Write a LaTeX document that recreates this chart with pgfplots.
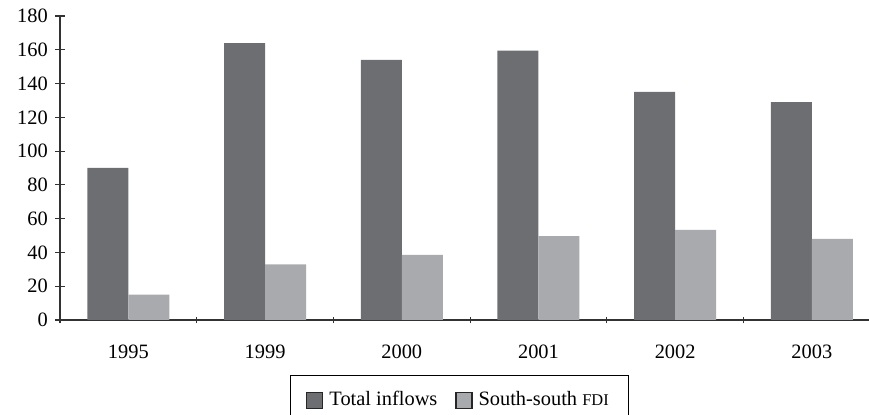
\documentclass[border=0pt]{standalone}
\usepackage{fontspec}
\setmainfont{Liberation Serif}
\usepackage{pgfplots}
\pgfplotsset{compat=1.18}
\definecolor{darkbar}{RGB}{109,110,114}
\definecolor{lightbar}{RGB}{169,170,174}
\definecolor{axisgray}{RGB}{50,50,50}
\begin{document}
\begin{tikzpicture}
\fontsize{10.2bp}{12.2bp}\selectfont
\begin{axis}[
  scale only axis,
  width=404.5bp, height=152bp,
  ybar=0pt, bar width=20.5bp,
  xmin=-0.5, xmax=5.418,
  ymin=0, ymax=180,
  ytick={0,20,...,180},
  xtick={0,1,2,3,4,5},
  xticklabels={1995,1999,2000,2001,2002,2003},
  minor xtick={-0.5,0.5,1.5,2.5,3.5,4.5,5.5},
  major x tick style={draw=none},
  minor tick length=3.3bp,
  major tick length=5bp,
  tick align=outside,
  axis x line=bottom, axis y line=left,
  axis line style={-, axisgray, line width=0.6bp},
  every tick/.style={axisgray, line width=0.6bp},
  /pgf/number format/assume math mode=true,
  tick label style={font=\fontsize{10.2bp}{12.2bp}\selectfont},
  xticklabel style={yshift=-6.5bp},
  legend style={
    at={(axis description cs:0.5,0)}, anchor=north,
    xshift=-2.5bp, yshift=-27.5bp,
    draw=black, line width=0.5bp,
    inner xsep=8bp, inner ysep=6bp,
    font=\fontsize{10.2bp}{12.2bp}\selectfont,
    /tikz/every odd column/.append style={column sep=1bp},
    /tikz/every even column/.append style={column sep=7bp},
  },
  legend columns=2,
  legend image code/.code={\draw[#1, draw=black!85, line width=0.6bp] (0bp,-4bp) rectangle (8bp,4bp);},
]
\addplot[fill=darkbar, draw=none] coordinates {(0,90) (1,164) (2,154) (3,159.5) (4,135) (5,129)};
\addplot[fill=lightbar, draw=none] coordinates {(0,15) (1,33) (2,38.5) (3,49.7) (4,53.3) (5,48)};
\legend{Total inflows, South-south {\fontsize{8.2bp}{10bp}\selectfont FDI}}
\end{axis}
\pgfresetboundingbox
\path[use as bounding box] ([shift={(-30bp,-47.5bp)}]current axis.south west) rectangle ([shift={(0bp,8bp)}]current axis.north east);
\end{tikzpicture}
\end{document}
